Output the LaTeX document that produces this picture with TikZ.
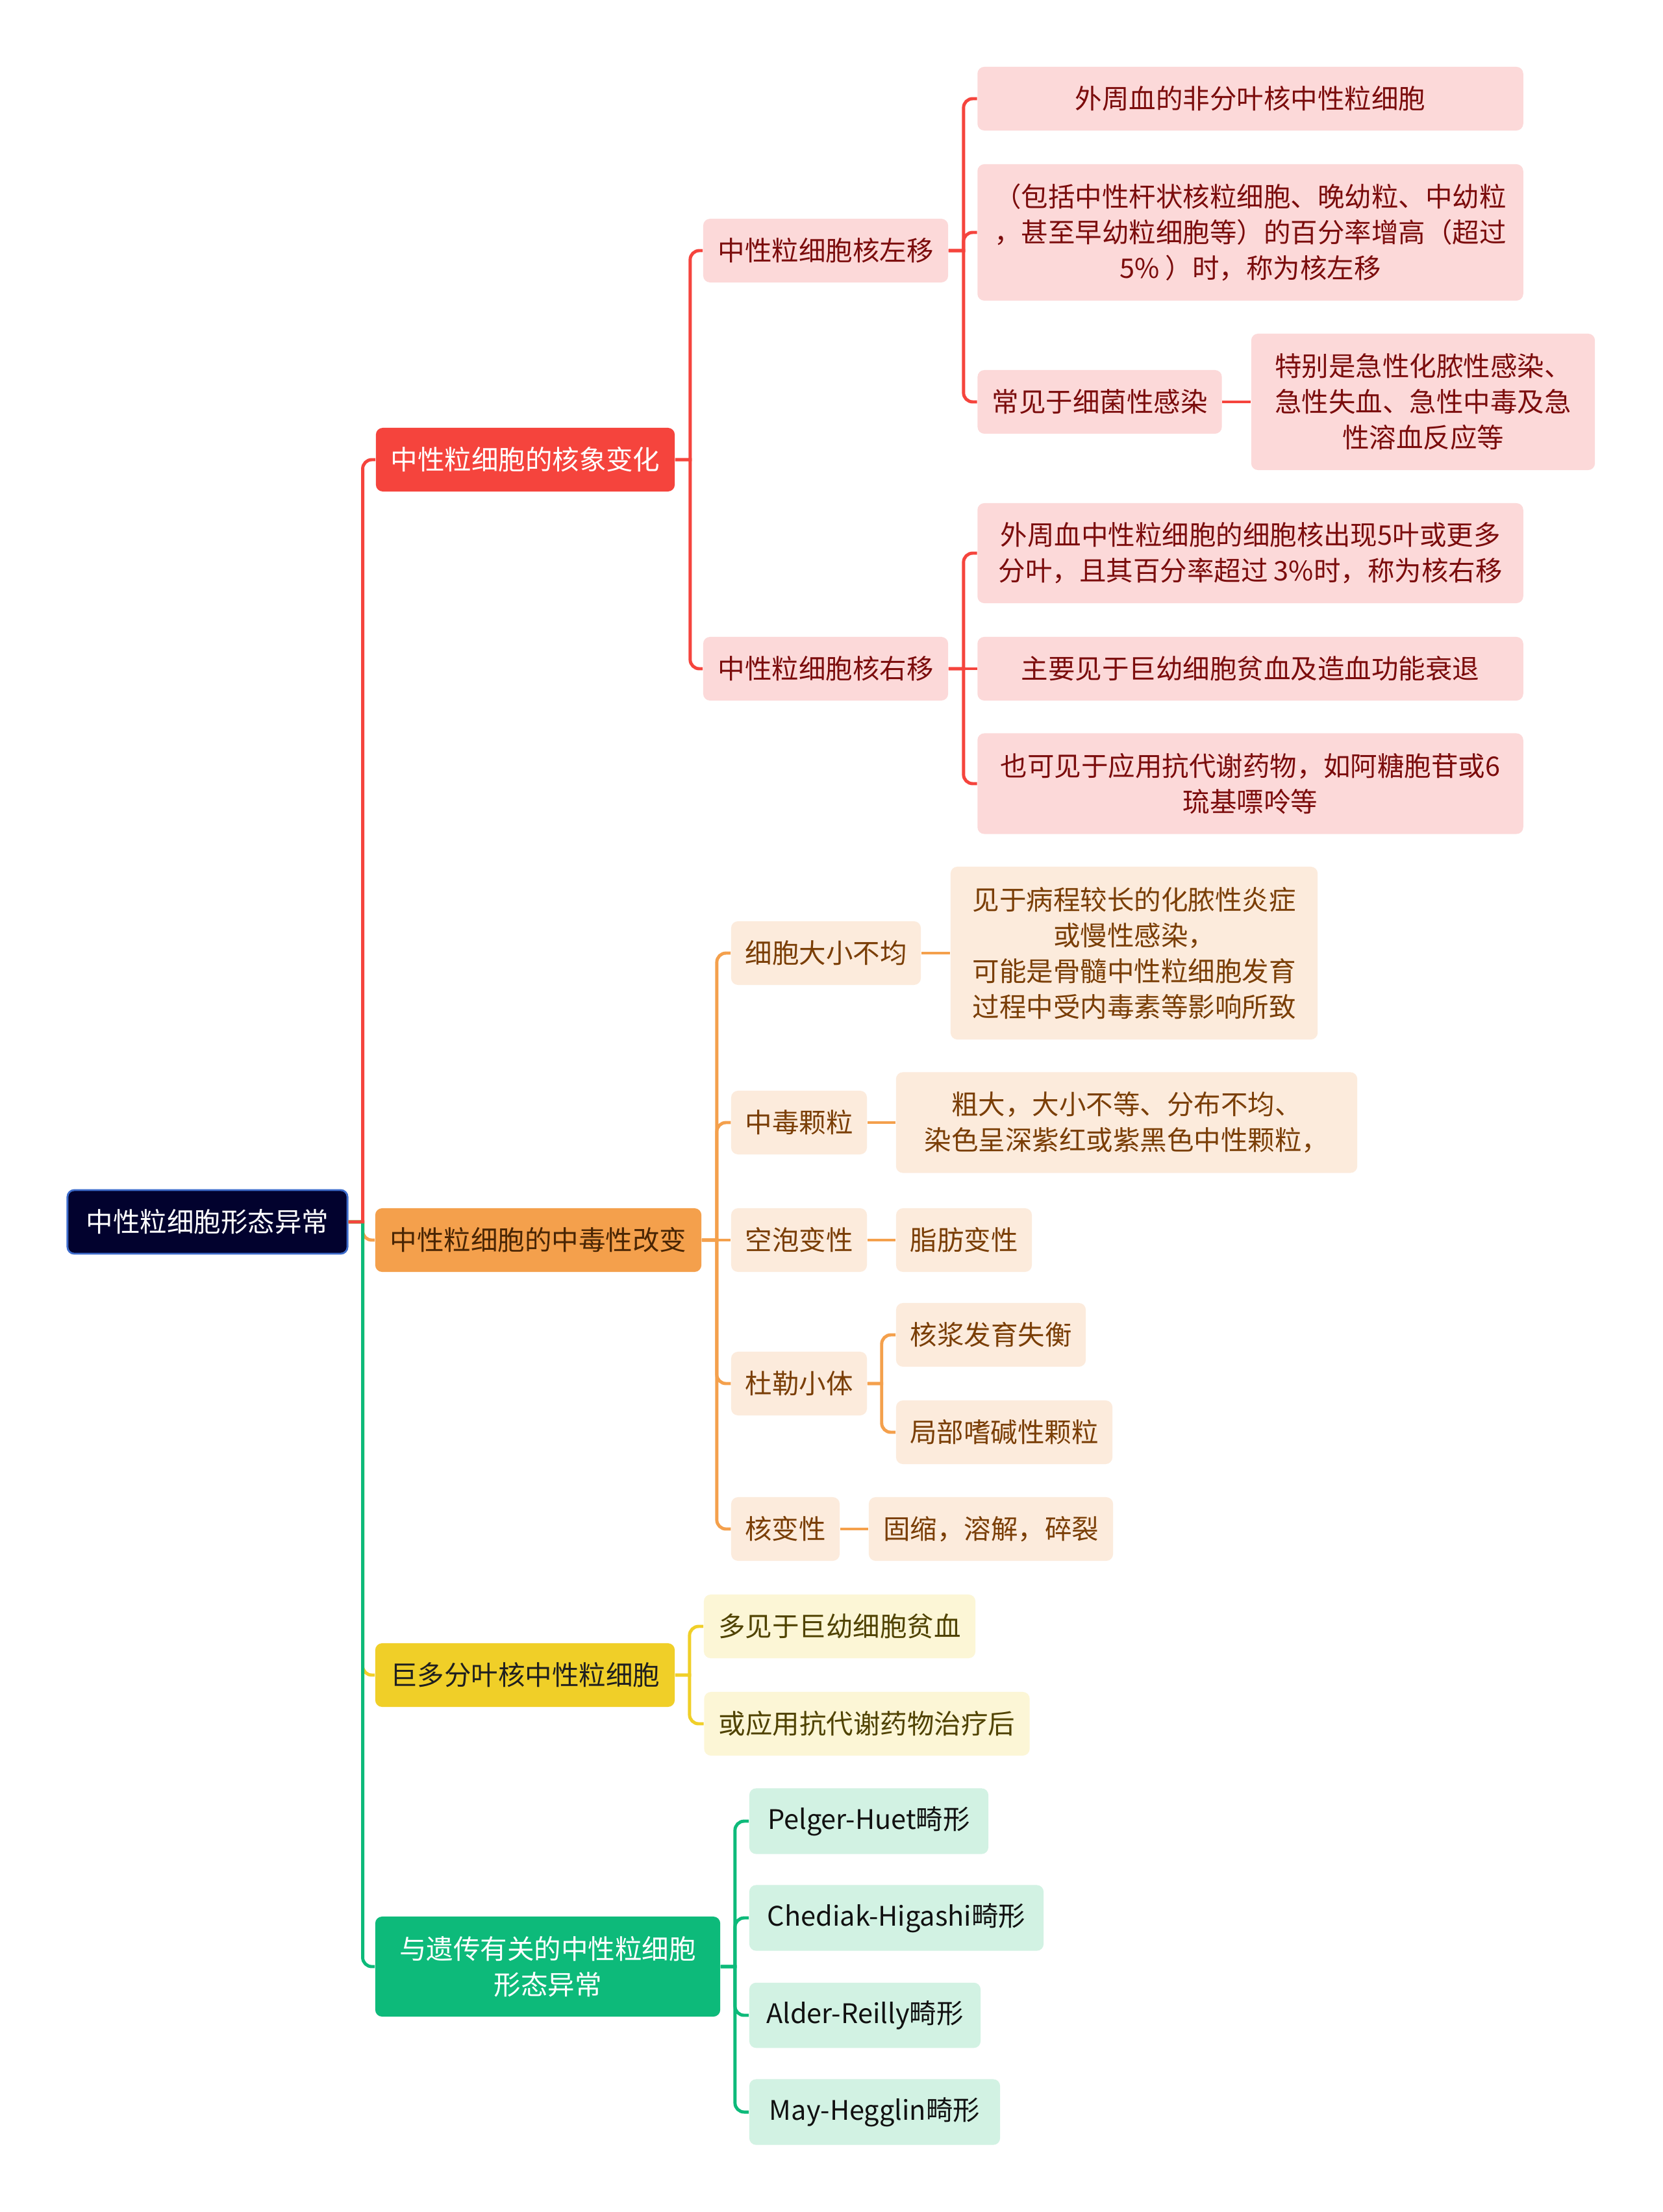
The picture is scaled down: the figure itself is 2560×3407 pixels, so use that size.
\documentclass[tikz,border=0pt]{standalone}
\usepackage{fontspec}
\setmainfont{Noto Sans CJK SC}
\usepackage{xcolor}
\usepackage{tikz}

\definecolor{rootbg}{HTML}{02022E}
\definecolor{rootln}{HTML}{3E6CCB}
\definecolor{redA}{HTML}{F5443D}
\definecolor{redL}{HTML}{FCD9D9}
\definecolor{redT}{HTML}{7B0C0C}
\definecolor{orgA}{HTML}{F4A04C}
\definecolor{orgL}{HTML}{FCEBDC}
\definecolor{orgT}{HTML}{7A3E06}
\definecolor{yelA}{HTML}{F0CF28}
\definecolor{yelL}{HTML}{FCF6D6}
\definecolor{yelT}{HTML}{4F4200}
\definecolor{grnA}{HTML}{0DBA7A}
\definecolor{grnL}{HTML}{D2F2E3}
\definecolor{grnT}{HTML}{111111}
\newcommand{\mmfont}{\fontsize{11.8pt}{15.6pt}\selectfont}

\begin{document}
\begin{tikzpicture}[
  x=0.01cm, y=-0.01cm,
  box/.style={rounded corners=3pt, align=center, font=\mmfont, inner xsep=0.2cm, inner ysep=0.28cm, minimum height=0.98cm},
  rootbox/.style={box, fill=rootbg, draw=rootln, line width=0.8pt, text=white},
  rbox/.style={box, fill=redA, text=white},
  obox/.style={box, fill=orgA, text=orgT!60!black},
  ybox/.style={box, fill=yelA, text=black!88},
  gbox/.style={box, fill=grnA, text=white},
  rsub/.style={box, fill=redL, text=redT},
  osub/.style={box, fill=orgL, text=orgT},
  ysub/.style={box, fill=yelL, text=yelT},
  gsub/.style={box, fill=grnL, text=grnT},
  link/.style={line width=1.4pt},
  softcorner/.style={rounded corners=4pt},
  rlink/.style={link, draw=redA},
  olink/.style={link, draw=orgA},
  ylink/.style={link, draw=yelA},
  glink/.style={link, draw=grnA}
]
\path[fill=white, use as bounding box] (0,0) rectangle (2560,3407);
% root and first level
\node[rootbox, minimum width=4.31cm] (root) at (319.5,1882) {中性粒细胞形态异常};
\node[rbox, minimum width=4.60cm] (nuc) at (809,708) {中性粒细胞的核象变化};
\node[obox, minimum width=5.02cm] (tox) at (829,1910) {中性粒细胞的中毒性改变};
\node[ybox, minimum width=4.61cm] (giant) at (808.5,2580) {巨多分叶核中性粒细胞};
\node[gbox, minimum width=5.31cm, minimum height=1.54cm] (gene) at (843.5,3029) {与遗传有关的中性粒细胞\\形态异常};
% nuclear shift
\node[rsub, minimum width=3.77cm] (lshift) at (1271.5,386) {中性粒细胞核左移};
\node[rsub, minimum width=3.77cm] (rshift) at (1271.5,1030) {中性粒细胞核右移};
\node[rsub, minimum width=8.40cm] (ls1) at (1925.5,152) {外周血的非分叶核中性粒细胞};
\node[rsub, minimum width=8.40cm, minimum height=2.10cm] (ls2) at (1925.5,358) {（包括中性杆状核粒细胞、晚幼粒、中幼粒\\，甚至早幼粒细胞等）的百分率增高（超过\\5\% ）时，称为核左移};
\node[rsub, minimum width=3.76cm] (ls3) at (1693.5,619) {常见于细菌性感染};
\node[rsub, minimum width=5.29cm, minimum height=2.10cm] (ls3a) at (2191.5,619) {特别是急性化脓性感染、\\急性失血、急性中毒及急\\性溶血反应等};
\node[rsub, minimum width=8.40cm, minimum height=1.54cm] (rs1) at (1925.5,852) {外周血中性粒细胞的细胞核出现5叶或更多\\分叶，且其百分率超过 3\%时，称为核右移};
\node[rsub, minimum width=8.40cm] (rs2) at (1925.5,1030) {主要见于巨幼细胞贫血及造血功能衰退};
\node[rsub, minimum width=8.40cm, minimum height=1.55cm] (rs3) at (1925.5,1207) {也可见于应用抗代谢药物，如阿糖胞苷或6\\琉基嘌呤等};
% toxic changes
\node[osub, minimum width=2.92cm] (size) at (1272,1468) {细胞大小不均};
\node[osub, minimum width=5.65cm, minimum height=2.66cm] (sizea) at (1746.5,1468) {见于病程较长的化脓性炎症\\或慢性感染，\\可能是骨髓中性粒细胞发育\\过程中受内毒素等影响所致};
\node[osub, minimum width=2.09cm] (gran) at (1230.5,1729) {中毒颗粒};
\node[osub, minimum width=7.10cm, minimum height=1.55cm] (grana) at (1735,1729) {粗大，大小不等、分布不均、\\染色呈深紫红或紫黑色中性颗粒，};
\node[osub, minimum width=2.09cm] (vac) at (1230.5,1910) {空泡变性};
\node[osub, minimum width=2.09cm] (vaca) at (1484.5,1910) {脂肪变性};
\node[osub, minimum width=2.09cm] (dohle) at (1230.5,2131) {杜勒小体};
\node[osub, minimum width=2.92cm] (dohle1) at (1526,2056) {核浆发育失衡};
\node[osub, minimum width=3.33cm] (dohle2) at (1546.5,2206) {局部嗜碱性颗粒};
\node[osub, minimum width=1.67cm] (degen) at (1209.5,2355) {核变性};
\node[osub, minimum width=3.76cm] (degena) at (1526,2355) {固缩，溶解，碎裂};
% hypersegmented
\node[ysub, minimum width=4.18cm] (hyp1) at (1293,2505) {多见于巨幼细胞贫血};
\node[ysub, minimum width=5.01cm] (hyp2) at (1335,2655) {或应用抗代谢药物治疗后};
% hereditary
\node[gsub, minimum width=3.68cm] (pel) at (1338,2805) {Pelger-Huet畸形};
\node[gsub, minimum width=4.53cm] (che) at (1380.5,2954) {Chediak-Higashi畸形};
\node[gsub, minimum width=3.56cm] (ald) at (1332,3104) {Alder-Reilly畸形};
\node[gsub, minimum width=3.86cm] (may) at (1347,3253) {May-Hegglin畸形};
% links from root
\draw[olink] (root.east) -- ++(22,0) coordinate (j) [softcorner] -- (j |- tox.west) -- (tox.west);
\draw[ylink] (root.east) -- ++(22,0) coordinate (j) [softcorner] -- (j |- giant.west) -- (giant.west);
\draw[glink] (root.east) -- ++(22,0) coordinate (j) [softcorner] -- (j |- gene.west) -- (gene.west);
\draw[rlink] (root.east) -- ++(22,0) coordinate (j) [softcorner] -- (j |- nuc.west) -- (nuc.west);
% red branch
\draw[rlink] (nuc.east) -- ++(23,0) coordinate (j) [softcorner] -- (j |- lshift.west) -- (lshift.west);
\draw[rlink] (nuc.east) -- ++(23,0) coordinate (j) [softcorner] -- (j |- rshift.west) -- (rshift.west);
\draw[rlink] (lshift.east) -- ++(23,0) coordinate (j) [softcorner] -- (j |- ls1.west) -- (ls1.west);
\draw[rlink] (lshift.east) -- ++(23,0) coordinate (j) [softcorner] -- (j |- ls2.west) -- (ls2.west);
\draw[rlink] (lshift.east) -- ++(23,0) coordinate (j) [softcorner] -- (j |- ls3.west) -- (ls3.west);
\draw[rlink] (ls3) -- (ls3a);
\draw[rlink] (rshift.east) -- ++(23,0) coordinate (j) [softcorner] -- (j |- rs1.west) -- (rs1.west);
\draw[rlink] (rshift) -- (rs2);
\draw[rlink] (rshift.east) -- ++(23,0) coordinate (j) [softcorner] -- (j |- rs3.west) -- (rs3.west);
% orange branch
\draw[olink] (tox.east) -- ++(23,0) coordinate (j) [softcorner] -- (j |- size.west) -- (size.west);
\draw[olink] (tox.east) -- ++(23,0) coordinate (j) [softcorner] -- (j |- gran.west) -- (gran.west);
\draw[olink] (tox) -- (vac);
\draw[olink] (tox.east) -- ++(23,0) coordinate (j) [softcorner] -- (j |- dohle.west) -- (dohle.west);
\draw[olink] (tox.east) -- ++(23,0) coordinate (j) [softcorner] -- (j |- degen.west) -- (degen.west);
\draw[olink] (size) -- (sizea);
\draw[olink] (gran) -- (grana);
\draw[olink] (vac) -- (vaca);
\draw[olink] (dohle.east) -- ++(22,0) coordinate (j) [softcorner] -- (j |- dohle1.west) -- (dohle1.west);
\draw[olink] (dohle.east) -- ++(22,0) coordinate (j) [softcorner] -- (j |- dohle2.west) -- (dohle2.west);
\draw[olink] (degen) -- (degena);
% yellow branch
\draw[ylink] (giant.east) -- ++(22,0) coordinate (j) [softcorner] -- (j |- hyp1.west) -- (hyp1.west);
\draw[ylink] (giant.east) -- ++(22,0) coordinate (j) [softcorner] -- (j |- hyp2.west) -- (hyp2.west);
% green branch
\draw[glink] (gene.east) -- ++(22,0) coordinate (j) [softcorner] -- (j |- pel.west) -- (pel.west);
\draw[glink] (gene.east) -- ++(22,0) coordinate (j) [softcorner] -- (j |- che.west) -- (che.west);
\draw[glink] (gene.east) -- ++(22,0) coordinate (j) [softcorner] -- (j |- ald.west) -- (ald.west);
\draw[glink] (gene.east) -- ++(22,0) coordinate (j) [softcorner] -- (j |- may.west) -- (may.west);
\end{tikzpicture}
\end{document}
